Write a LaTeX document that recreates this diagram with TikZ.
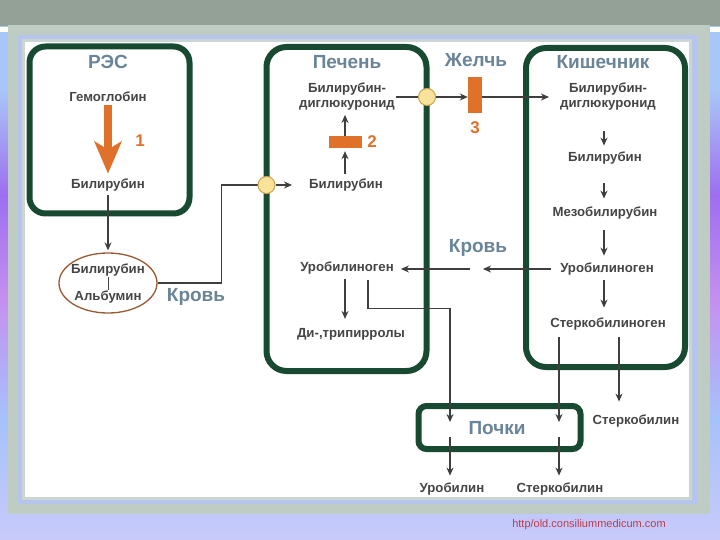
\documentclass[tikz,border=0pt]{standalone}
\usepackage{fontspec}
\setmainfont{Liberation Sans}
\newfontfamily\urlfont{Liberation Sans}
\usetikzlibrary{arrows.meta,shapes.geometric}
\definecolor{bandgray}{HTML}{93A196}
\definecolor{framegray}{HTML}{BECCC4}
\definecolor{stripblue}{HTML}{B7C4EE}
\definecolor{boxgreen}{HTML}{184A32}
\definecolor{titleblue}{HTML}{6A8597}
\definecolor{txtgray}{HTML}{454545}
\definecolor{orng}{HTML}{E0712A}
\definecolor{circfill}{HTML}{F9E39A}
\definecolor{circdraw}{HTML}{C9A24A}
\definecolor{ellbrown}{HTML}{9A5A32}
\definecolor{urlred}{HTML}{C0394A}
\definecolor{bgA}{HTML}{A9C6F8}
\definecolor{bgB}{HTML}{9E6EF0}
\definecolor{bgC}{HTML}{C490F0}
\definecolor{bgD}{HTML}{A6C2FA}
\definecolor{bgE}{HTML}{C8CAFA}
\begin{document}
\begin{tikzpicture}[x=1pt,y=-1pt,
  organ/.style={draw=boxgreen, line width=6pt, rounded corners=16pt, rectangle, inner sep=0pt},
  lbl/.style={font=\fontsize{13.2}{15}\selectfont\bfseries, text=txtgray, inner sep=1pt, align=center},
  ttl/.style={font=\fontsize{19}{21}\selectfont\bfseries, text=titleblue, inner sep=1pt},
  num/.style={font=\fontsize{17}{19}\selectfont\bfseries, text=orng, inner sep=1pt},
  conn/.style={draw=txtgray!90!black, line width=1.1pt},
  arr/.style={conn, -{Stealth[length=8pt,width=7pt]}},
  junction/.style={circle, fill=circfill, draw=circdraw, line width=1pt, minimum size=17pt, inner sep=0pt},
  enzyme/.style={rectangle, fill=orng, inner sep=0pt}
]
\useasboundingbox (0,0) rectangle (720,540);
% background
\shade[top color=bgA, bottom color=bgA] (0,26) rectangle (720,90);
\shade[top color=bgA, bottom color=bgB] (0,90) rectangle (720,195);
\shade[top color=bgB, bottom color=bgC] (0,195) rectangle (720,300);
\shade[top color=bgC, bottom color=bgD] (0,300) rectangle (720,420);
\shade[top color=bgD, bottom color=bgE] (0,420) rectangle (720,540);
\fill[bandgray] (0,0) rectangle (720,26);
\fill[white] (0,27) rectangle (720,32);
\fill[framegray] (8,25) rectangle (710,514);
\fill[stripblue] (18,35) rectangle (697,504);
\fill[framegray!80!white] (22,39) rectangle (692,500);
\fill[white] (25,42) rectangle (689,497);

% organ boxes
\node[organ, minimum width=160pt, minimum height=167pt] (res) at (109.5,130) {};
\node[organ, rounded corners=20pt, minimum width=160pt, minimum height=324pt] (liver) at (346.5,209) {};
\node[organ, rounded corners=20pt, minimum width=159pt, minimum height=319pt] (gut) at (605.5,207.5) {};
\node[organ, rounded corners=8pt, minimum width=162pt, minimum height=43pt] (kid) at (499.5,427.5) {};

% titles
\node[ttl] (tres) at (108,62) {РЭС};
\node[ttl] (tliver) at (347,62) {Печень};
\node[ttl] (tbile) at (476,60) {Желчь};
\node[ttl] (tgut) at (603,62) {Кишечник};
\node[ttl] (tblood1) at (196,297) {Кровь};
\node[ttl] (tblood2) at (478,248) {Кровь};
\node[ttl] (tkid) at (497,428) {Почки};

% RES
\node[lbl] (gem) at (108,97) {Гемоглобин};
\node[lbl] (bil1) at (108,185) {Билирубин};
\draw[orng, line width=8pt, -{Stealth[length=32pt,width=27pt,inset=8pt]}, shorten <=2pt, shorten >=4pt] (gem.south) -- (bil1.north);
\node[num] (n1) at (140,141) {1};

% ellipse
\node[ellipse, draw=ellbrown, line width=1.3pt, minimum width=98pt, minimum height=60pt, inner sep=0pt] (ell) at (108,283) {};
\node[lbl] (ea) at (108,270) {Билирубин};
\node[lbl] (eb) at (108,297) {Альбумин};
\draw[txtgray, line width=0.8pt] (ea.south) -- (eb.north);
\draw[arr, shorten <=3pt, shorten >=2pt] (bil1.south) -- (ell.north);

% liver
\coordinate (j1c) at (266.5,185);
\coordinate (j2c) at (427,97);
\node[lbl] (bil2) at (346,185) {Билирубин};
\node[enzyme, minimum width=33pt, minimum height=12pt] (enz2) at (345,142) {};
\node[num] (n2) at (372,142) {2};
\node[lbl] (bdg) at (347,97) {Билирубин-\\диглюкуронид};
\draw[arr, shorten <=4pt, shorten >=3pt] (enz2.south |- bil2.north) -- (enz2.south);
\draw[arr, shorten >=3pt] (enz2.north) -- (enz2.north |- bdg.south);

\node[lbl] (p4) at (347,268) {Уробилиноген};
\node[lbl] (p5) at (351,334) {Ди-,трипирролы};
\draw[arr, shorten <=4pt, shorten >=8pt] (enz2.south |- p4.south) -- (enz2.south |- p5.north);

% bile
\node[enzyme, minimum width=14pt, minimum height=36pt] (enz3) at (475,95) {};
\node[num] (n3) at (475,128) {3};
\node[lbl] (k1) at (608,97) {Билирубин-\\диглюкуронид};

% gut chain
\node[lbl] (k2) at (605,158) {Билирубин};
\node[lbl] (k3) at (605,213) {Мезобилирубин};
\node[lbl] (k4) at (607,269) {Уробилиноген};
\node[lbl] (k5) at (608,324) {Стеркобилиноген};
\draw[arr, shorten <=19pt, shorten >=5pt] (k1.south -| 604,0) -- (k2.north -| 604,0);
\draw[arr, shorten <=18pt, shorten >=7pt] (k2.south -| 604,0) -- (k3.north -| 604,0);
\draw[arr, shorten <=10pt, shorten >=6pt] (k3.south -| 604,0) -- (k4.north -| 604,0);
\draw[arr, shorten <=4pt, shorten >=9pt] (k4.south -| 604,0) -- (k5.north -| 604,0);

% blood return
\coordinate (kr1) at (483,269);
\coordinate (kr2) at (470,269);
\draw[arr, shorten <=8pt] (k4.west |- kr1) -- (kr1);
\draw[arr, shorten >=6pt] (kr2) -- (kr2 -| p4.east);

% kidney route
\coordinate (pk1) at (450,422);
\coordinate (pk1b) at (450,437);
\coordinate (pk2) at (559,422);
\coordinate (pk2b) at (559,437);
\node[lbl] (u1) at (452,489) {Уробилин};
\node[lbl] (s1) at (560,489) {Стеркобилин};
\node[lbl] (s2) at (636,421) {Стеркобилин};
\draw[arr] (p4.south -| 368,0) ++(0,5) -- ++(0,28) -| (pk1);
\draw[arr, shorten >=6pt] (pk1b) -- (pk1b |- u1.north);
\draw[arr, shorten <=6pt] (k5.south -| pk2) -- (pk2);
\draw[arr, shorten >=6pt] (pk2b) -- (pk2b |- s1.north);
\draw[arr, shorten <=6pt, shorten >=12pt] (k5.south -| 619,0) -- (s2.north -| 619,0);

% junction connectors and circles (drawn last so they sit on top)
\draw[conn] (ell.east) -- ++(64,0) |- (j1c);
\draw[conn] (bdg.east |- j2c) -- (j2c);
\node[junction] (j1) at (j1c) {};
\node[junction] (j2) at (j2c) {};
\draw[arr, shorten >=16pt] (j1.east) -- (bil2.west);
\draw[arr] (j2.east) -- (enz3.west |- j2);
\draw[arr, shorten >=10pt] (enz3.east |- j2) -- (k1.west |- j2);

% url
\node[font=\urlfont\fontsize{11}{13}\selectfont, text=urlred, inner sep=0pt] (url) at (589,525) {http/old.consiliummedicum.com};
\end{tikzpicture}
\end{document}
